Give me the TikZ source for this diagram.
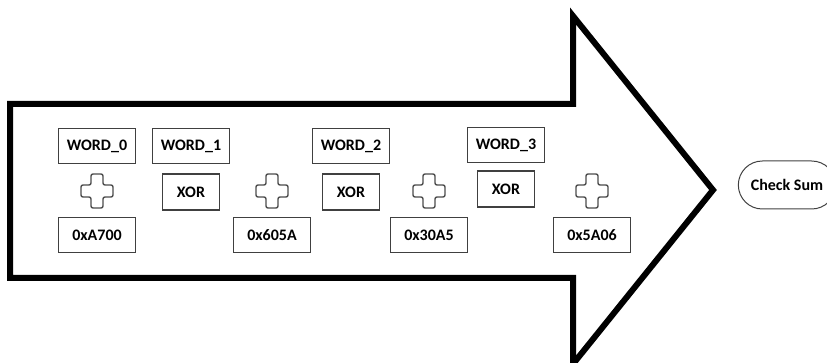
\documentclass[tikz,border=0pt]{standalone}
\usepackage{fontspec}
\setmainfont{Carlito}
\usepackage{tikz}
\usetikzlibrary{shapes.misc, positioning}

\begin{document}
\begin{tikzpicture}[
    x=1pt, y=-1pt,
    node distance=45pt,
    font=\fontsize{16}{19}\selectfont\bfseries,
    word/.style={rectangle, draw=black!75, line width=1.3pt,
                 minimum width=77pt, minimum height=35pt, inner sep=0pt, text centered},
    xorbox/.style={word, minimum width=57pt, minimum height=36pt},
    plus/.style={minimum width=36pt, minimum height=38pt, inner sep=0pt,
                 path picture={\draw[black!70, line width=1.4pt, rounded corners=2pt,
                     shift={(path picture bounding box.center)}]
                     (-6,-17) -- (6,-17) -- (6,-6) -- (16,-6) -- (16,6) -- (6,6) -- (6,17)
                     -- (-6,17) -- (-6,6) -- (-16,6) -- (-16,-6) -- (-6,-6) -- cycle;}},
    result/.style={rounded rectangle, draw=black!75, line width=1pt,
                   minimum width=104pt, minimum height=48pt}
]
\useasboundingbox (0,0) rectangle (827,363);

% big arrow
\draw[line width=6pt] (10,104) -- (573,104) -- (573,16) -- (713,190) -- (573,364)
    -- (573,278) -- (10,278) -- cycle;

\node[word] (w0) at (97,146) {WORD\_0};
\node[plus, below of=w0] (p0) {};
\node[word, below of=p0, node distance=44pt] (h0) {0xA700};

\node[word] (w1) at (191,146) {WORD\_1};
\node[xorbox, below of=w1, node distance=46pt] (x1) {XOR};

\node[plus] (p1) at (272,191) {};
\node[word, below of=p1, node distance=44pt] (h1) {0x605A};

\node[word] (w2) at (351,146) {WORD\_2};
\node[xorbox, below of=w2, node distance=46pt] (x2) {XOR};

\node[plus] (p2) at (429,191) {};
\node[word, below of=p2, node distance=44pt] (h2) {0x30A5};

\node[word] (w3) at (506,145) {WORD\_3};
\node[xorbox, below of=w3, node distance=44pt] (x3) {XOR};

\node[plus] (p3) at (592,191) {};
\node[word, below of=p3, node distance=44pt] (h3) {0x5A06};

\node[result] (sum) at (787,185) {Check Sum};
\end{tikzpicture}
\end{document}
